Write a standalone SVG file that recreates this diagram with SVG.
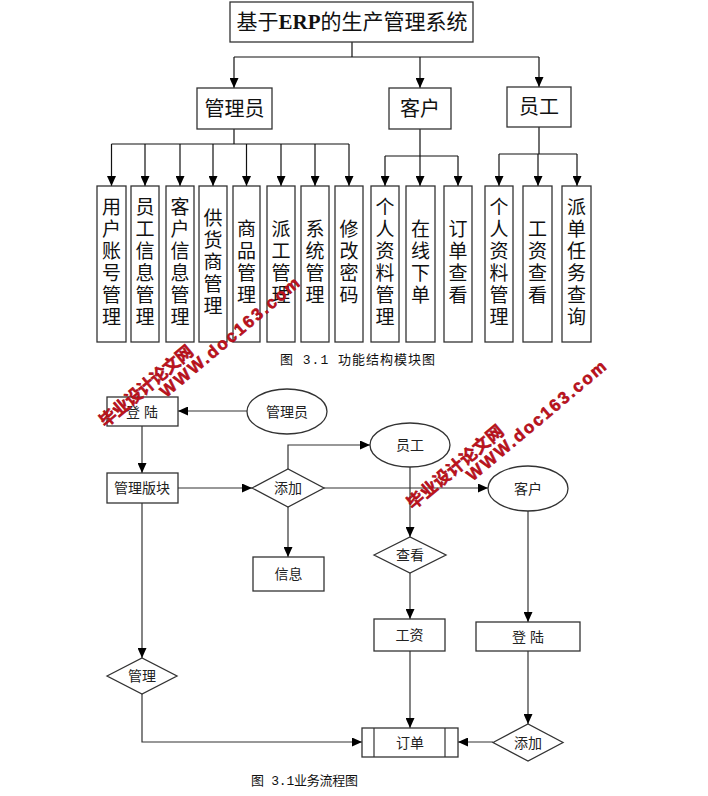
<svg xmlns="http://www.w3.org/2000/svg" width="708" height="796" viewBox="0 0 708 796">
<defs>
<marker id="arr" markerUnits="userSpaceOnUse" markerWidth="10" markerHeight="9" refX="10" refY="4.5" orient="auto">
<path d="M0,0 L10,4.5 L0,9 z" fill="#000"/>
</marker>
<style>
.bx{fill:#fff;stroke:#333;stroke-width:1.3}
.ln{fill:none;stroke:#111;stroke-width:1.2}
.fl{fill:none;stroke:#333;stroke-width:1.2}
.t{font-family:"Liberation Serif","Noto Sans CJK SC",serif;fill:#111;text-anchor:middle;dominant-baseline:central}
.v{font-size:19px}
.h{font-size:20px}
.f{font-family:"Liberation Sans","Noto Sans CJK SC",sans-serif;font-size:14px;fill:#222;text-anchor:middle;dominant-baseline:central}
.cap{font-family:"Liberation Mono","Noto Sans CJK SC",monospace;font-size:13px;fill:#111}
.wm{font-family:"Liberation Sans","Noto Sans CJK SC",sans-serif;font-weight:bold;fill:#c0141c;text-anchor:middle;dominant-baseline:central;stroke:#a00010;stroke-width:0.5}
</style>
</defs>
<rect width="708" height="796" fill="#fff"/>

<g id="connectors">
<path class="ln" d="M352,42 V57 M234,57 H539"/>
<path class="ln" d="M234,57 V88" marker-end="url(#arr)"/>
<path class="ln" d="M420,57 V88" marker-end="url(#arr)"/>
<path class="ln" d="M539,57 V87" marker-end="url(#arr)"/>
<path class="ln" d="M234,129 V144 M111.5,144 H349"/>
<path class="ln" d="M111.5,144 V186" marker-end="url(#arr)"/>
<path class="ln" d="M145,144 V186" marker-end="url(#arr)"/>
<path class="ln" d="M180,144 V186" marker-end="url(#arr)"/>
<path class="ln" d="M213,144 V186" marker-end="url(#arr)"/>
<path class="ln" d="M246.5,144 V186" marker-end="url(#arr)"/>
<path class="ln" d="M281,144 V186" marker-end="url(#arr)"/>
<path class="ln" d="M315,144 V186" marker-end="url(#arr)"/>
<path class="ln" d="M349,144 V186" marker-end="url(#arr)"/>
<path class="ln" d="M420,129 V156 M385,156 H458"/>
<path class="ln" d="M385,156 V186" marker-end="url(#arr)"/>
<path class="ln" d="M420,156 V186" marker-end="url(#arr)"/>
<path class="ln" d="M458,156 V186" marker-end="url(#arr)"/>
<path class="ln" d="M539,127 V154 M499,154 H577"/>
<path class="ln" d="M499,154 V186" marker-end="url(#arr)"/>
<path class="ln" d="M538,154 V186" marker-end="url(#arr)"/>
<path class="ln" d="M577,154 V186" marker-end="url(#arr)"/>

<path class="fl" d="M247,411 H178" marker-end="url(#arr)"/>
<path class="fl" d="M142,426 V473" marker-end="url(#arr)"/>
<path class="fl" d="M178,488 H252" marker-end="url(#arr)"/>
<path class="fl" d="M288,469 V445 H370" marker-end="url(#arr)"/>
<path class="fl" d="M324,488 H488" marker-end="url(#arr)"/>
<path class="fl" d="M288,507 V557" marker-end="url(#arr)"/>
<path class="fl" d="M410,467 V537" marker-end="url(#arr)"/>
<path class="fl" d="M410,573 V619" marker-end="url(#arr)"/>
<path class="fl" d="M410,651 V728" marker-end="url(#arr)"/>
<path class="fl" d="M528,511 V622" marker-end="url(#arr)"/>
<path class="fl" d="M528,651 V724" marker-end="url(#arr)"/>
<path class="fl" d="M493,742 H458" marker-end="url(#arr)"/>
<path class="fl" d="M142,503 V658" marker-end="url(#arr)"/>
<path class="fl" d="M142,694 V742 H362" marker-end="url(#arr)"/>
</g>

<g id="title"><rect class="bx" x="230" y="2" width="243" height="40"/>
<text class="t" x="352" y="22" font-size="21">基于<tspan font-weight="bold">ERP</tspan>的生产管理系统</text></g>
<g id="admin"><rect class="bx" x="197" y="88" width="75" height="41"/><text class="t h" x="234.5" y="108.5">管理员</text></g>
<g id="customer"><rect class="bx" x="389" y="88" width="62" height="41"/><text class="t h" x="420" y="108.5">客户</text></g>
<g id="staff"><rect class="bx" x="507" y="87" width="64" height="40"/><text class="t h" x="539" y="107">员工</text></g>

<g id="m1"><rect class="bx" x="97" y="186" width="29" height="156"/><text class="t v"><tspan x="111.5" y="207">用</tspan><tspan x="111.5" y="229">户</tspan><tspan x="111.5" y="251">账</tspan><tspan x="111.5" y="273">号</tspan><tspan x="111.5" y="295">管</tspan><tspan x="111.5" y="317">理</tspan></text></g>
<g id="m2"><rect class="bx" x="131" y="186" width="28" height="156"/><text class="t v"><tspan x="145" y="207">员</tspan><tspan x="145" y="229">工</tspan><tspan x="145" y="251">信</tspan><tspan x="145" y="273">息</tspan><tspan x="145" y="295">管</tspan><tspan x="145" y="317">理</tspan></text></g>
<g id="m3"><rect class="bx" x="166" y="186" width="28" height="156"/><text class="t v"><tspan x="180" y="207">客</tspan><tspan x="180" y="229">户</tspan><tspan x="180" y="251">信</tspan><tspan x="180" y="273">息</tspan><tspan x="180" y="295">管</tspan><tspan x="180" y="317">理</tspan></text></g>
<g id="m4"><rect class="bx" x="199" y="186" width="28" height="156"/><text class="t v"><tspan x="213" y="218">供</tspan><tspan x="213" y="240">货</tspan><tspan x="213" y="262">商</tspan><tspan x="213" y="284">管</tspan><tspan x="213" y="306">理</tspan></text></g>
<g id="m5"><rect class="bx" x="233" y="186" width="27" height="156"/><text class="t v"><tspan x="246.5" y="229">商</tspan><tspan x="246.5" y="251">品</tspan><tspan x="246.5" y="273">管</tspan><tspan x="246.5" y="295">理</tspan></text></g>
<g id="m6"><rect class="bx" x="267" y="186" width="28" height="156"/><text class="t v"><tspan x="281" y="229">派</tspan><tspan x="281" y="251">工</tspan><tspan x="281" y="273">管</tspan><tspan x="281" y="295">理</tspan></text></g>
<g id="m7"><rect class="bx" x="301" y="186" width="28" height="156"/><text class="t v"><tspan x="315" y="229">系</tspan><tspan x="315" y="251">统</tspan><tspan x="315" y="273">管</tspan><tspan x="315" y="295">理</tspan></text></g>
<g id="m8"><rect class="bx" x="335" y="186" width="28" height="156"/><text class="t v"><tspan x="349" y="229">修</tspan><tspan x="349" y="251">改</tspan><tspan x="349" y="273">密</tspan><tspan x="349" y="295">码</tspan></text></g>
<g id="c1"><rect class="bx" x="371" y="186" width="28" height="156"/><text class="t v"><tspan x="385" y="207">个</tspan><tspan x="385" y="229">人</tspan><tspan x="385" y="251">资</tspan><tspan x="385" y="273">料</tspan><tspan x="385" y="295">管</tspan><tspan x="385" y="317">理</tspan></text></g>
<g id="c2"><rect class="bx" x="406" y="186" width="29" height="156"/><text class="t v"><tspan x="420.5" y="229">在</tspan><tspan x="420.5" y="251">线</tspan><tspan x="420.5" y="273">下</tspan><tspan x="420.5" y="295">单</tspan></text></g>
<g id="c3"><rect class="bx" x="444" y="186" width="28" height="156"/><text class="t v"><tspan x="458" y="229">订</tspan><tspan x="458" y="251">单</tspan><tspan x="458" y="273">查</tspan><tspan x="458" y="295">看</tspan></text></g>
<g id="s1"><rect class="bx" x="485" y="186" width="28" height="156"/><text class="t v"><tspan x="499" y="207">个</tspan><tspan x="499" y="229">人</tspan><tspan x="499" y="251">资</tspan><tspan x="499" y="273">料</tspan><tspan x="499" y="295">管</tspan><tspan x="499" y="317">理</tspan></text></g>
<g id="s2"><rect class="bx" x="523" y="186" width="29" height="156"/><text class="t v"><tspan x="537.5" y="229">工</tspan><tspan x="537.5" y="251">资</tspan><tspan x="537.5" y="273">查</tspan><tspan x="537.5" y="295">看</tspan></text></g>
<g id="s3"><rect class="bx" x="562" y="186" width="29" height="156"/><text class="t v"><tspan x="576.5" y="207">派</tspan><tspan x="576.5" y="229">单</tspan><tspan x="576.5" y="251">任</tspan><tspan x="576.5" y="273">务</tspan><tspan x="576.5" y="295">查</tspan><tspan x="576.5" y="317">询</tspan></text></g>

<text id="caption1" class="cap" x="280" y="364" textLength="155" lengthAdjust="spacing">图 3.1 功能结构模块图</text>

<g id="login1"><rect class="bx" x="107" y="397" width="71" height="29"/><text class="f" x="142" y="411.5">登 陆</text></g>
<g id="fadmin"><ellipse class="bx" cx="287" cy="411.5" rx="40" ry="22.5"/><text class="f" x="287" y="411.5">管理员</text></g>
<g id="panel"><rect class="bx" x="107" y="473" width="71" height="30"/><text class="f" x="142" y="488">管理版块</text></g>
<g id="add1"><polygon class="bx" points="252,488 288,469 324,488 288,507"/><text class="f" x="288" y="488">添加</text></g>
<g id="fstaff"><ellipse class="bx" cx="410" cy="445" rx="40" ry="22"/><text class="f" x="410" y="445">员工</text></g>
<g id="fcust"><ellipse class="bx" cx="528" cy="488.5" rx="40" ry="22.5"/><text class="f" x="528" y="488.5">客户</text></g>
<g id="info"><rect class="bx" x="253" y="557" width="71" height="34"/><text class="f" x="288.5" y="574">信息</text></g>
<g id="view"><polygon class="bx" points="374,555 410,537 446,555 410,573"/><text class="f" x="410" y="555">查看</text></g>
<g id="salary"><rect class="bx" x="374" y="619" width="71" height="32"/><text class="f" x="409.5" y="635">工资</text></g>
<g id="login2"><rect class="bx" x="476" y="622" width="104" height="29"/><text class="f" x="528" y="636.5">登 陆</text></g>
<g id="manage"><polygon class="bx" points="107,676 142,658 177,676 142,694"/><text class="f" x="142" y="676">管理</text></g>
<g id="order"><rect class="bx" x="362" y="728" width="96" height="29"/><line class="fl" x1="374" y1="728" x2="374" y2="757"/><line class="fl" x1="445" y1="728" x2="445" y2="757"/><text class="f" x="410" y="742.5">订单</text></g>
<g id="add2"><polygon class="bx" points="493,742.5 528,724 563,742.5 528,761"/><text class="f" x="528" y="742.5">添加</text></g>

<text id="caption2" class="cap" x="251" y="785" font-size="12" textLength="107" lengthAdjust="spacing">图 3.1业务流程图</text>

<g id="watermarks">
<text class="wm" font-size="17" transform="rotate(-40 146.5 386.5)" x="146.5" y="386.5" textLength="116" lengthAdjust="spacing">毕业设计论文网</text>
<text class="wm" font-size="17" transform="rotate(-40 230 337.5)" x="230" y="337.5" textLength="176" lengthAdjust="spacing">WWW.doc163.com</text>
<text class="wm" font-size="17" transform="rotate(-40 455.5 467.5)" x="455.5" y="467.5" textLength="120" lengthAdjust="spacing">毕业设计论文网</text>
<text class="wm" font-size="17" transform="rotate(-40 536.5 421)" x="536.5" y="421" textLength="176" lengthAdjust="spacing">WWW.doc163.com</text>
</g>
</svg>
